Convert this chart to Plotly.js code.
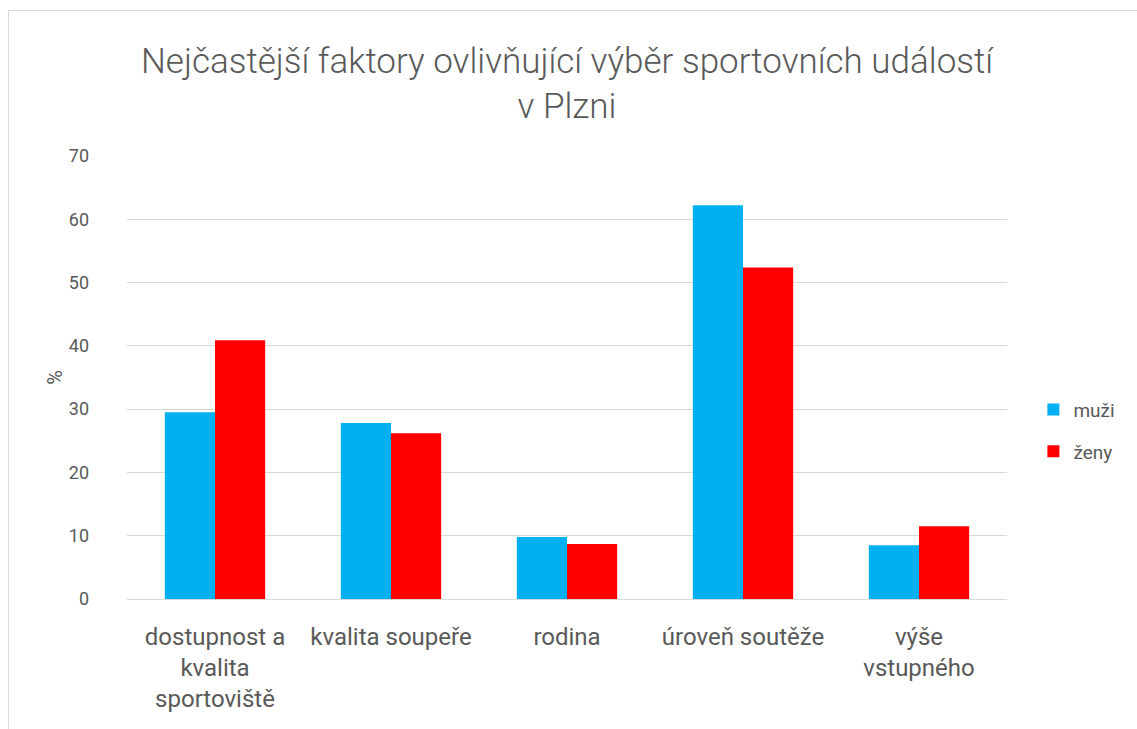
<!DOCTYPE html>
<html><head><meta charset="utf-8">
<script src="https://cdn.plot.ly/plotly-3.0.1.min.js"></script>
<style>
body{margin:0;padding:0;background:#fff;}
#frame{position:absolute;left:8px;top:10px;width:1140px;height:730px;border:1px solid #d9d9d9;box-sizing:border-box;}
#chart{position:absolute;left:0;top:0;width:1137px;height:729px;}
</style></head>
<body>
<div id="frame"></div>
<div id="chart"></div>
<script>
const categories = ["dostupnost a<br>kvalita<br>sportoviště", "kvalita soupeře", "rodina", "úroveň soutěže", "výše<br>vstupného"];
const muzi = [29.5, 27.8, 9.8, 62.2, 8.5];
const zeny = [40.9, 26.2, 8.7, 52.4, 11.5];
const yTicks = [0, 10, 20, 30, 40, 50, 60, 70];

const font = "Roboto, sans-serif";
const traces = [
  {type:'bar', name:'muži', x:categories, y:muzi, marker:{color:'#00b0f0'}, legendgroup:'a'},
  {type:'bar', name:'ženy', x:categories, y:zeny, marker:{color:'#ff0000'}, legendgroup:'b'}
];
const layout = {
  width:1137, height:729,
  paper_bgcolor:'rgba(0,0,0,0)', plot_bgcolor:'rgba(0,0,0,0)',
  margin:{l:127, r:130, t:156, b:130},
  font:{family:font, color:'#595959'},
  title:{text:'Nejčastější faktory ovlivňující výběr sportovních událostí<br>v Plzni', x:0.5, xref:'paper', xanchor:'center', y:0.90, yanchor:'top', font:{size:35, color:'#595959', family:font, weight:300}},
  barmode:'group', bargap:0.43, bargroupgap:0,
  xaxis:{tickfont:{size:24, color:'#595959'}, showline:true, linecolor:'#d9d9d9', linewidth:1, ticks:'', ticklabelstandoff:16, automargin:false},
  yaxis:{range:[0,70], tickvals:yTicks, ticktext:yTicks.map(String), showgrid:true, gridcolor:'#d9d9d9', gridwidth:1, zeroline:false, showline:false, ticks:'', ticklabelstandoff:37, tickfont:{size:18, color:'#595959'}, title:{text:'%', font:{size:20, color:'#595959'}, standoff:0}, automargin:false},
  legend:{x:1.03, xanchor:'left', y:0.38, yanchor:'middle', traceorder:'grouped', tracegroupgap:14, font:{size:19, color:'#595959'}, itemwidth:30},
  showlegend:true
};
Plotly.newPlot('chart', traces, layout, {displayModeBar:false, staticPlot:true});
</script>
</body></html>
